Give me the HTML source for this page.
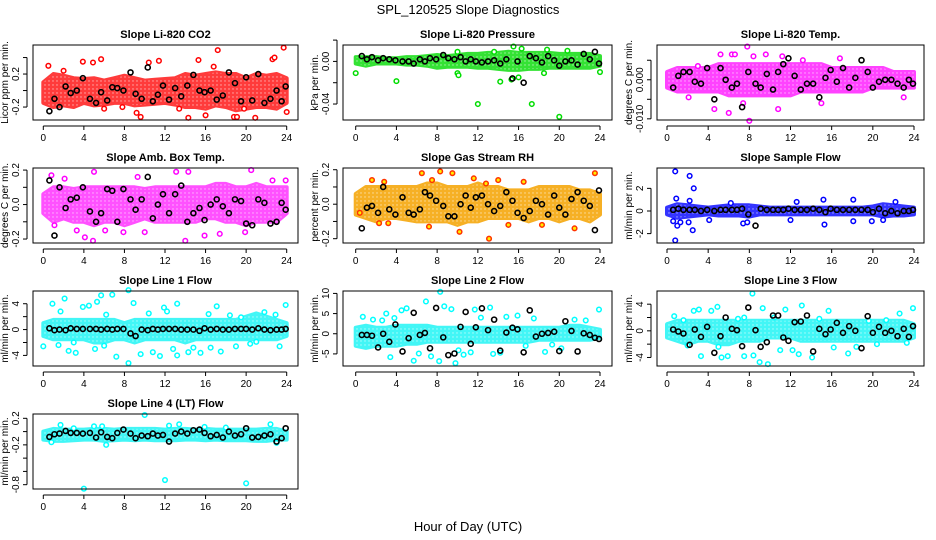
<!DOCTYPE html>
<html><head><meta charset="utf-8"><style>
body{margin:0;background:#fff}
svg{display:block;font-family:"Liberation Sans",Arial,sans-serif}
</style></head><body>
<svg id="chart" width="936" height="540" viewBox="0 0 936 540" xmlns="http://www.w3.org/2000/svg">
<defs>
<pattern id="speckle" width="4" height="4" patternUnits="userSpaceOnUse">
<rect width="4" height="4" fill="#000" opacity="0"/>
<circle cx="1" cy="1" r="0.7" fill="#fff"/>
</pattern>
</defs>
<text x="468" y="14" text-anchor="middle" font-size="13">SPL_120525  Slope Diagnostics</text>
<text x="468" y="531" text-anchor="middle" font-size="13">Hour of Day (UTC)</text>
</svg>
<script>
const bandHours=[0,1,2,3,4,5,6,7,8,9,10,11,12,13,14,15,16,17,18,19,20,21,22,23,24];
const blackHours=[0.6,1.1,1.6,2.2,2.7,3.3,3.9,4.6,5.2,5.7,6.3,6.8,7.3,7.9,8.6,9.1,9.7,10.3,10.8,11.3,11.8,12.4,13.0,13.6,14.2,14.8,15.4,15.9,16.5,17.1,17.7,18.3,18.9,19.5,20.0,20.6,21.2,21.8,22.4,23.0,23.5,23.9];
const xTicks=[0,4,8,12,16,20,24];

const co2Lo=[-0.15,-0.2,-0.18,-0.2,-0.15,-0.18,-0.17,-0.15,-0.15,-0.18,-0.17,-0.16,-0.15,-0.17,-0.2,-0.2,-0.22,-0.18,-0.2,-0.24,-0.22,-0.2,-0.2,-0.22,-0.15];
const co2Hi=[0.1,0.2,0.18,0.15,0.14,0.15,0.12,0.15,0.18,0.15,0.12,0.13,0.14,0.15,0.2,0.18,0.2,0.22,0.2,0.2,0.15,0.2,0.18,0.2,0.15];
const co2OutH=[0.5,3.9,4.9,5.7,9.2,9.6,10.4,11.4,14.3,15.3,17.2,18.8,19.1,20.9,22.6,22.8,23.7,24,16.0,16.8,2.0,7.8,13.4,6.0,19.8];
const co2OutV=[0.3,0.35,0.34,0.38,-0.27,-0.32,0.34,0.36,-0.33,0.37,0.49,-0.32,-0.32,-0.33,0.38,0.4,0.52,-0.26,-0.3,0.29,0.24,-0.2,-0.22,-0.22,-0.22];
const co2Black=[-0.25,-0.1,-0.2,0.05,-0.03,0.0,0.15,-0.1,-0.15,-0.02,-0.12,0.04,0.03,0.0,0.22,-0.04,-0.1,0.28,-0.13,-0.05,0.06,-0.11,0.03,-0.07,0.06,0.19,0.0,-0.02,0.0,-0.11,-0.06,0.22,0.09,-0.13,0.16,-0.12,0.2,-0.15,-0.1,0.0,-0.13,0.05];

const presLo=[-0.002,-0.004,-0.002,-0.002,-0.002,-0.003,-0.003,-0.004,-0.006,-0.005,-0.005,-0.005,-0.006,-0.006,-0.007,-0.008,-0.008,-0.007,-0.007,-0.006,-0.006,-0.006,-0.006,-0.006,-0.004];
const presHi=[0.004,0.004,0.004,0.003,0.003,0.004,0.004,0.005,0.006,0.005,0.006,0.007,0.007,0.008,0.008,0.009,0.008,0.008,0.008,0.008,0.007,0.007,0.007,0.007,0.005];
const presOutH=[0,4,10,10.1,12,14.2,15.3,15.5,16.3,17.3,18.8,20.0,20.8,24,16.0,18.5,13.6,10.0];
const presOutV=[-0.011,-0.0185,-0.011,-0.013,-0.040,-0.019,-0.017,0.014,0.012,-0.040,0.011,-0.052,0.010,-0.010,-0.015,-0.011,0.009,0.009];
const presBlack=[0.005,0.002,0.004,0.001,0.003,0.002,0.001,0.0,0.0,-0.002,0.002,0.0,0.003,0.002,0.006,0.003,0.002,0.004,0.0,0.002,0.0,-0.001,0.0,0.001,-0.002,0.002,-0.016,0.0,-0.02,0.005,0.003,-0.001,0.005,0.001,-0.004,0.0,0.001,-0.003,0.007,0.002,0.009,-0.002];

const tempLo=[-0.002,-0.003,-0.003,-0.003,-0.003,-0.003,-0.004,-0.004,-0.004,-0.004,-0.004,-0.004,-0.004,-0.003,-0.003,-0.003,-0.003,-0.003,-0.003,-0.003,-0.002,-0.002,-0.002,-0.002,-0.002];
const tempHi=[0.002,0.003,0.003,0.003,0.003,0.004,0.004,0.004,0.004,0.004,0.004,0.004,0.004,0.004,0.004,0.004,0.003,0.003,0.003,0.003,0.003,0.003,0.002,0.002,0.002];
const tempOutH=[2.1,5.2,6.3,6.6,7.8,8.0,6.0,4.6,7.4,9.6,10.8,11.2,15.0,16.8,23.0,8.4,3.0,13.2];
const tempOutV=[-0.0045,0.0065,0.0065,0.0065,0.0085,-0.0105,-0.0085,-0.0075,-0.006,0.0065,-0.0075,0.006,-0.006,0.0055,-0.0045,0.006,0.0035,0.005];
const tempBlack=[-0.002,0.001,0.002,0.002,-0.0005,-0.001,0.003,-0.005,0.003,0,-0.002,-0.001,-0.007,0.002,-0.001,-0.002,0.0015,-0.0025,0.002,0.004,0.0055,0.001,-0.0025,-0.001,-0.001,-0.0045,0.0005,0.0025,-0.0005,0.003,-0.002,0.0005,0.005,0.002,-0.002,-0.0005,0.0,0.0,-0.001,-0.002,0.0,-0.001];

const ambLo=[-0.05,-0.1,-0.08,-0.1,-0.1,-0.12,-0.1,-0.1,-0.12,-0.1,-0.08,-0.1,-0.1,-0.1,-0.1,-0.1,-0.08,-0.08,-0.1,-0.1,-0.12,-0.1,-0.1,-0.1,-0.05];
const ambHi=[0.06,0.1,0.1,0.09,0.1,0.1,0.1,0.1,0.1,0.1,0.09,0.1,0.1,0.1,0.1,0.1,0.1,0.12,0.12,0.1,0.1,0.12,0.1,0.1,0.1];
const ambOutH=[0.8,2.1,5.0,4.9,4.1,3.3,6.1,7.9,9.3,10.0,13.1,14.0,14.3,15.9,17.4,19.9,20.5,23.9,22.6,1.1];
const ambOutV=[0.17,0.15,0.19,-0.21,-0.19,-0.15,-0.15,-0.16,0.16,-0.16,0.19,-0.21,0.19,-0.18,-0.17,-0.16,0.2,0.14,0.14,-0.12];
const ambBlack=[0.14,-0.18,0.1,-0.02,0.03,0.04,0.1,-0.04,-0.1,-0.05,0.09,0.08,-0.1,0.09,0.03,-0.03,0.03,0.16,-0.08,0.0,0.06,-0.05,0.06,0.11,-0.1,-0.05,-0.02,-0.09,0.0,0.03,-0.01,-0.05,0.03,0.02,-0.11,-0.12,0.03,0.01,-0.11,-0.1,0.01,-0.03];

const rhLo=[-0.06,-0.08,-0.1,-0.08,-0.08,-0.09,-0.1,-0.1,-0.1,-0.1,-0.12,-0.1,-0.1,-0.08,-0.08,-0.08,-0.08,-0.1,-0.08,-0.08,-0.1,-0.08,-0.08,-0.1,-0.06];
const rhHi=[0.06,0.1,0.1,0.1,0.1,0.1,0.1,0.12,0.12,0.1,0.1,0.1,0.12,0.1,0.1,0.08,0.08,0.08,0.1,0.1,0.1,0.1,0.08,0.08,0.06];
const rhOutH=[1.6,2.8,2.3,3.2,7.2,7.5,8.3,9.5,10.2,11.6,13.1,14.0,15.0,16.5,18.3,21.5,23.5,6.5,0.4,12.8];
const rhOutV=[0.14,0.13,-0.11,-0.11,-0.13,0.14,0.19,0.18,-0.16,0.15,-0.2,0.14,-0.12,0.13,-0.12,-0.14,0.18,0.18,-0.05,0.12];
const rhBlack=[-0.14,-0.02,-0.01,-0.05,0.1,-0.03,-0.06,0.04,-0.05,-0.06,-0.03,0.07,0.05,0.02,-0.01,-0.07,-0.07,0.0,0.05,-0.02,0.04,0.05,0.0,-0.04,-0.01,0.07,0.02,-0.05,-0.08,-0.04,0.02,0.0,-0.06,0.05,-0.02,-0.06,0.03,0.07,0.02,-0.01,-0.15,0.08];

const sfLo=[-0.3,-0.6,-0.5,-0.4,-0.3,-0.4,-0.4,-0.4,-0.5,-0.3,-0.3,-0.3,-0.3,-0.3,-0.3,-0.3,-0.3,-0.3,-0.3,-0.3,-0.3,-0.5,-0.4,-0.4,-0.3];
const sfHi=[0.3,0.6,0.5,0.4,0.3,0.4,0.5,0.5,0.5,0.4,0.3,0.3,0.3,0.3,0.3,0.3,0.3,0.3,0.3,0.3,0.4,0.6,0.5,0.4,0.3];
const sfOutH=[0.8,2.2,2.6,0.8,1.0,2.5,2.1,0.9,2.2,0.6,4.1,6.2,7.4,7.8,12.6,12.0,15.2,15.3,18.1,18.1,19.9,22.2,21.0,1.3];
const sfOutV=[3.5,3.1,2.0,-2.6,-1.3,-1.7,-1.0,1.1,0.9,-0.9,-0.8,0.7,-1.1,-1.0,0.8,-0.8,1.0,-1.2,1.0,-0.9,-0.9,0.8,-0.8,-1.0];
const sfBlack=[0.1,0.2,0.1,0.1,0.1,0.0,0.1,0.0,0.1,0.1,0.1,0.1,0.2,-0.3,-1.3,0.2,0.1,0.1,0.1,0.1,0.2,0.1,0.1,0.1,0.2,0.1,-0.1,0.2,0.1,0.1,0.1,0.1,0.1,0.1,-0.1,0.2,-0.2,0.0,-0.2,0.0,0.0,0.1];

const l1Lo=[-1,-1.5,-1.5,-1.5,-1.5,-2,-2,-1.5,-1.5,-2,-1.5,-1.5,-1.5,-1.5,-2,-1.5,-1.5,-1.5,-1.5,-1.5,-1.5,-1.5,-1.5,-1.5,-1];
const l1Hi=[1,1.5,1.5,1.5,1.5,1.5,1.5,1.5,1,1.5,1.5,1.5,1.5,1.5,1.5,1.5,1.5,1.5,1.5,1.5,2,2.5,2,1.5,1];
const l1OutH=[0,0.9,1.7,2.1,2.5,3.2,3.9,4.5,5.3,5.7,6.2,6.8,7.2,8.4,8.4,8.9,9.6,10.4,11.5,11.9,12.2,13.2,13.2,14.3,15.5,16.3,17.1,17.5,18.4,19.0,20.4,21.8,22.9,23.9,23.3,5.1,3.0,1.5,12.8,16.5,21.0,10.8,19.5,6.0,14.8];
const l1OutV=[-2.6,4.0,2.8,4.8,-3.3,-3.6,3.5,3.7,4.3,5.3,2.3,5.4,-4.2,6.1,-5.2,4.1,-3.8,2.5,-4.1,3.4,2.8,4.0,-4.0,-3.5,-3.6,2.4,3.6,-3.4,2.2,-2.6,-2.2,2.7,2.3,3.8,-2.6,-3.0,-2.0,-2.4,-3.0,-2.8,-1.9,-3.5,1.9,-2.5,-2.8];
const l1Black=[0.2,-0.1,0.0,-0.1,0.2,0.1,0.1,0.1,0.1,0.0,0.1,0.0,0.1,0.1,-0.6,-1.0,0.0,-0.1,0.1,0.0,0.1,0.1,0.1,0.0,0.0,0.0,-0.2,0.2,0.0,0.1,0.0,0.0,0.1,0.1,0.1,0.0,0.2,0.0,-0.1,0.0,0.0,0.1];

const l2Lo=[-3,-3.5,-3,-3,-3,-2.5,-2.5,-2,-2,-2,-2,-2,-2,-2,-2,-2,-2,-2,-1.5,-1.5,-1.5,-1.5,-1.5,-1.5,-1];
const l2Hi=[1.5,2,1.5,1.5,2,2,2,2,1.5,1.5,1.5,1.5,1.5,1.5,1.5,1.5,1.5,1.5,1.5,1.5,1.5,2,2,1.5,1];
const l2OutH=[0.7,1.7,2.6,3.0,3.4,4.5,5.0,5.7,6.2,6.9,7.4,8.3,8.2,8.7,9.4,9.8,10.6,11.3,11.7,12.3,13.2,13.5,14.2,14.8,15.9,16.7,17.5,18.6,19.3,20.2,21.5,22.6,23.9,3.8,10.1];
const l2OutV=[4.2,3.5,3.3,5.0,-5.8,5.8,6.3,-6.7,-4.9,8.0,-5.6,10.4,-6.8,6.8,6.1,-7.3,-5.2,-4.6,6.0,4.0,6.5,-5.0,-4.7,4.2,4.5,-3.0,3.8,-4.5,-2.7,-3.6,3.5,3.3,6.0,3.9,-4.1];
const l2Black=[-0.3,-0.3,-0.5,-3.4,0.0,-2.0,2.3,-4.4,-1.1,5.2,-0.3,0.2,-3.6,6.4,-0.9,-5.3,-4.9,1.7,5.4,-2.5,1.6,6.3,0.9,3.5,-4.2,0.3,1.5,1.1,-4.6,5.8,-0.7,0.0,0.2,0.5,-4.3,3.1,0.7,-4.4,0.1,-0.3,-1.0,-1.3];

const l3Lo=[-1,-1.5,-2,-1.5,-1.5,-2,-2,-1.5,-1.5,-1.5,-1,-1,-1,-1.5,-1.5,-1.5,-1.5,-1.5,-1.5,-1.5,-1.5,-1.5,-1.5,-1.5,-1];
const l3Hi=[1,1.5,1.5,1.5,1.5,1.5,1.5,1.5,1.5,1.5,1.5,1.5,1.5,1.5,1.5,1.5,1.5,1.5,1.5,1.5,1.5,1.5,1.5,1.5,1];
const l3OutH=[0.7,1.6,2.6,3.1,3.3,4.3,4.9,5.0,5.3,5.9,6.9,7.5,7.5,8.3,8.4,9.0,9.3,9.8,11.0,11.5,12.2,12.8,13.1,14.1,14.8,15.7,16.2,17.6,18.4,19.6,20.4,22.6,23.9,23.3,2.0,10.4,21.3];
const l3OutV=[2.2,1.6,3.0,3.2,-3.8,3.0,3.6,-2.4,-4.0,-3.8,1.8,2.0,-3.8,5.6,-3.7,-4.7,3.4,-5.0,-2.9,3.2,-2.9,-3.5,3.8,-4.0,1.8,3.0,-2.5,-3.4,-2.4,1.5,-2.0,2.6,3.4,-1.8,-2.2,2.0,1.6];
const l3Black=[0.2,-0.1,-0.4,-2.1,0.2,-0.9,0.6,-3.3,-0.8,2.0,0.3,0.1,-2.3,3.5,0.1,-2.4,-1.7,2.3,2.3,-1.0,-1.5,1.3,1.4,2.3,-3.1,0.3,-0.5,0.2,1.2,-0.3,0.7,0.0,-2.6,2.2,-0.3,0.6,-0.3,0.0,-0.8,0.3,-0.9,0.7];

const l4Lo=[-0.12,-0.14,-0.14,-0.13,-0.12,-0.12,-0.14,-0.13,-0.12,-0.13,-0.12,-0.13,-0.13,-0.13,-0.12,-0.12,-0.13,-0.12,-0.13,-0.13,-0.13,-0.14,-0.14,-0.12,-0.12];
const l4Hi=[0.0,0.04,0.03,0.03,0.03,0.04,0.04,0.03,0.04,0.04,0.04,0.04,0.03,0.04,0.04,0.03,0.04,0.03,0.03,0.03,0.03,0.03,0.04,0.04,0.0];
const l4OutH=[1.7,4.0,5.0,5.8,6.2,10.0,12.0,12.4,13.4,20.0,22.4,15.9,3.0,18.0,23.0,0.8];
const l4OutV=[0.1,-0.86,0.08,0.08,-0.2,0.25,-0.73,0.09,0.11,-0.78,0.11,0.07,0.05,0.06,-0.17,-0.16];
const l4Black=[-0.08,-0.04,-0.03,0.01,-0.02,-0.02,-0.03,-0.02,-0.09,-0.01,-0.08,-0.1,-0.02,0.03,-0.03,-0.1,-0.06,-0.07,-0.03,-0.06,-0.05,-0.15,-0.03,0.0,-0.03,0.02,0.03,-0.02,-0.07,-0.05,-0.09,0.0,-0.06,-0.04,0.05,-0.09,-0.08,-0.06,-0.04,-0.15,-0.1,0.05];

const cols=[{left:33,right:298,x0:43.3,x24:286.7},{left:343,right:612,x0:355.7,x24:600},{left:657,right:924,x0:667,x24:914}];
const rowTop=[45,168,291,414];
const BOXH=75;
const NS='http://www.w3.org/2000/svg';
const svg=document.getElementById('chart');
function mk(tag,attrs,parent){const e=document.createElementNS(NS,tag);for(const k in attrs)e.setAttribute(k,attrs[k]);(parent||svg).appendChild(e);return e;}

const panels=[
 {key:'co2',title:'Slope Li-820 CO2',ylab:'Licor ppm per min.',col:0,row:0,ymin:-0.357,ymax:0.552,ticks:[-0.2,0,0.2,0.4],labels:[-0.2,0.2],fmt:1,color:'#ff0000',band:'#ff1a1a',lo:co2Lo,hi:co2Hi,oh:co2OutH,ov:co2OutV,bk:co2Black},
 {key:'pressure',title:'Slope Li-820 Pressure',ylab:'kPa per min.',col:1,row:0,ymin:-0.055,ymax:0.0154,ticks:[-0.04,-0.02,0,0.02],labels:[-0.04,0],fmt:2,color:'#00dd00',band:'#11dd11',lo:presLo,hi:presHi,oh:presOutH,ov:presOutV,bk:presBlack},
 {key:'temp',title:'Slope Li-820 Temp.',ylab:'degrees C per min.',col:2,row:0,ymin:-0.0103,ymax:0.0089,ticks:[-0.01,-0.005,0,0.005],labels:[-0.01,0],fmt:3,color:'#ff00ff',band:'#ff22ff',lo:tempLo,hi:tempHi,oh:tempOutH,ov:tempOutV,bk:tempBlack},
 {key:'amb-temp',title:'Slope Amb. Box Temp.',ylab:'degrees C per min.',col:0,row:1,ymin:-0.223,ymax:0.212,ticks:[-0.2,-0.1,0,0.1,0.2],labels:[-0.2,0,0.2],fmt:1,color:'#ff00ff',band:'#ff33ff',lo:ambLo,hi:ambHi,oh:ambOutH,ov:ambOutV,bk:ambBlack},
 {key:'rh',title:'Slope Gas Stream RH',ylab:'percent per min.',col:1,row:1,ymin:-0.225,ymax:0.21,ticks:[-0.2,-0.1,0,0.1,0.2],labels:[-0.2,0,0.2],fmt:1,color:'#ff3300',fill:'#ffee00',band:'#f5a300',lo:rhLo,hi:rhHi,oh:rhOutH,ov:rhOutV,bk:rhBlack},
 {key:'sample-flow',title:'Slope Sample Flow',ylab:'ml/min per min.',col:2,row:1,ymin:-2.83,ymax:3.8,ticks:[-2,0,2],labels:[-2,0,2],fmt:0,color:'#0000ff',band:'#1111ff',lo:sfLo,hi:sfHi,oh:sfOutH,ov:sfOutV,bk:sfBlack},
 {key:'line1',title:'Slope Line 1 Flow',ylab:'ml/min per min.',col:0,row:2,ymin:-5.64,ymax:5.97,ticks:[-4,-2,0,2,4],labels:[-4,0,4],fmt:0,color:'#00ffff',band:'#22f5f5',lo:l1Lo,hi:l1Hi,oh:l1OutH,ov:l1OutV,bk:l1Black},
 {key:'line2',title:'Slope Line 2 Flow',ylab:'ml/min per min.',col:1,row:2,ymin:-8,ymax:10.6,ticks:[-5,0,5,10],labels:[-5,0,5,10],fmt:0,color:'#00ffff',band:'#22f5f5',lo:l2Lo,hi:l2Hi,oh:l2OutH,ov:l2OutV,bk:l2Black},
 {key:'line3',title:'Slope Line 3 Flow',ylab:'ml/min per min.',col:2,row:2,ymin:-5.28,ymax:5.98,ticks:[-4,-2,0,2,4],labels:[-4,0,4],fmt:0,color:'#00ffff',band:'#22f5f5',lo:l3Lo,hi:l3Hi,oh:l3OutH,ov:l3OutV,bk:l3Black},
 {key:'line4',title:'Slope Line 4 (LT) Flow',ylab:'ml/min per min.',col:0,row:3,ymin:-0.865,ymax:0.265,ticks:[-0.8,-0.6,-0.4,-0.2,0,0.2],labels:[-0.8,-0.2,0.2],fmt:1,color:'#00ffff',band:'#22f5f5',lo:l4Lo,hi:l4Hi,oh:l4OutH,ov:l4OutV,bk:l4Black}
];

panels.forEach(p=>{
  const c=cols[p.col], top=rowTop[p.row], bot=top+BOXH;
  const xs=h=>c.x0+(h/24)*(c.x24-c.x0);
  const ys=v=>bot-(v-p.ymin)/(p.ymax-p.ymin)*BOXH;
  const g=mk('g',{});
  
  
  const t=mk('text',{x:(c.left+c.right)/2,y:top-7,'text-anchor':'middle','font-size':'11','font-weight':'bold'},g);
  t.textContent=p.title;
  
  
  let d='';
  bandHours.forEach((h,i)=>{d+=(i?'L':'M')+xs(h).toFixed(1)+' '+ys(p.hi[i]).toFixed(1);});
  for(let i=bandHours.length-1;i>=0;i--)d+='L'+xs(bandHours[i]).toFixed(1)+' '+ys(p.lo[i]).toFixed(1);
  d+='Z';
  const band=mk('path',{d:d,fill:p.band,stroke:p.band,'stroke-width':'4','stroke-linejoin':'round',opacity:'0.85'},g);
  
  
  const tex=mk('path',{d:d,fill:'url(#speckle)',opacity:'0.6'},g);
  
  
  p.oh.forEach((h,i)=>{
    const ci=mk('circle',{cx:xs(h),cy:ys(p.ov[i]),r:2.3,fill:p.fill||'#fff',stroke:p.color,'stroke-width':'1.5'},g);
    
    
  });
  blackHours.forEach((h,i)=>{
    const ci=mk('circle',{cx:xs(h),cy:ys(p.bk[i]),r:2.5,fill:'none',stroke:'#000','stroke-width':'1.6'},g);
    
    
  });
  const box=mk('rect',{x:c.left,y:top,width:c.right-c.left,height:BOXH,fill:'none',stroke:'#000','stroke-width':'1'},g);
  
  
  const ay=bot+6;
  const xa=mk('line',{x1:xs(0),x2:xs(24),y1:ay,y2:ay,stroke:'#000'},g);
  
  
  xTicks.forEach(v=>{
    mk('line',{x1:xs(v),x2:xs(v),y1:ay,y2:ay+4,stroke:'#000'},g);
    const tl=mk('text',{x:xs(v),y:ay+15,'text-anchor':'middle','font-size':'10'},g);
    tl.textContent=v;
    
    
  });
  const ax=c.left-6;
  const tk=p.ticks;
  const ya=mk('line',{x1:ax,x2:ax,y1:ys(tk[0]),y2:ys(tk[tk.length-1]),stroke:'#000'},g);
  
  
  tk.forEach(v=>{mk('line',{x1:ax-4,x2:ax,y1:ys(v),y2:ys(v),stroke:'#000'},g);});
  p.labels.forEach(v=>{
    const yy=ys(v), xx=ax-8;
    const tl=mk('text',{x:xx,y:yy,'text-anchor':'middle','font-size':'10',transform:'rotate(-90 '+xx+' '+yy+')'},g);
    tl.textContent=(v===0&&p.fmt>0)?(0).toFixed(p.fmt):(p.fmt?v.toFixed(p.fmt):String(v));
    
    
  });
  const yt=mk('text',{x:c.left-25,y:top+BOXH/2,'text-anchor':'middle','font-size':'10',transform:'rotate(-90 '+(c.left-25)+' '+(top+BOXH/2)+')'},g);
  yt.textContent=p.ylab;
  
  
});
</script>
</body></html>
